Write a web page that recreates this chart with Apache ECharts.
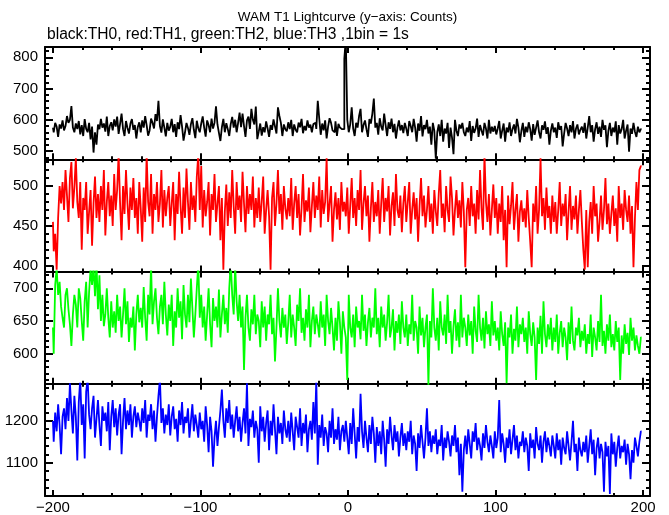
<!DOCTYPE html>
<html><head><meta charset="utf-8">
<script src="https://cdn.jsdelivr.net/npm/echarts@6/dist/echarts.min.js"></script>
<style>html,body{margin:0;padding:0;background:#fff}#c{width:669px;height:515px}</style>
</head><body><div id="c"></div>
<script>
// time bins: 1 bin = 1 s, starting at t = -200
const tStart = -200;
const binSize = 1;
const xMajorTicks = [-200, -100, 0, 100, 200];
const xMinorTicks = [-200,-180,-160,-140,-120,-100,-80,-60,-40,-20,0,20,40,60,80,100,120,140,160,180,200];

const th0 = [
575,560,590,578,545,585,572,598,566,580,612,590,600,644,575,560,588,570,596,553,
583,548,602,571,560,590,537,578,495,560,520,585,570,603,575,588,562,610,548,580,
592,566,601,578,610,555,587,620,570,548,596,574,556,588,602,568,583,540,577,592,
560,598,575,612,583,549,566,604,590,572,618,596,661,580,559,601,575,547,590,565,
578,603,560,586,545,592,570,615,578,533,560,590,574,552,586,605,568,541,597,573,
560,588,611,575,546,598,583,560,604,572,590,643,585,558,532,576,603,560,589,570,
548,586,609,575,600,560,590,623,576,620,580,545,598,610,571,635,600,585,642,538,
562,588,549,576,560,595,572,545,583,568,601,579,556,640,612,590,548,585,570,563,
592,570,600,548,585,568,560,591,576,603,557,580,566,598,575,584,560,586,590,571,
661,604,552,588,566,598,540,578,605,590,566,560,595,548,587,575,570,570,795,860,
600,560,585,640,572,548,590,575,612,635,560,583,598,570,545,602,588,620,668,575,
590,552,605,578,566,620,583,548,592,571,604,560,587,540,575,598,566,583,557,590,
571,548,596,580,560,603,575,530,588,565,612,547,583,570,600,556,578,520,590,565,
475,560,585,548,600,530,572,556,590,510,575,543,490,600,565,548,585,572,590,560,
548,575,560,596,532,580,558,572,604,545,583,566,550,590,572,540,600,556,578,562,
580,553,572,596,540,565,588,530,575,560,592,548,570,585,556,603,575,528,564,590,
545,578,560,592,570,533,586,552,575,598,560,540,582,568,595,555,576,520,565,588,
560,575,542,592,568,580,515,556,590,572,548,583,560,596,540,571,585,553,568,578,
558,590,540,575,612,560,583,530,570,592,555,578,545,600,568,582,512,565,590,548,
575,560,595,520,583,556,570,600,540,565,585,498,572,555,590,562,545,578,560,570
];
const th1 = [
455,418,440,395,460,500,478,505,470,520,488,455,510,530,472,498,535,480,460,505,
420,485,470,505,440,468,495,425,478,512,460,490,455,500,470,520,438,480,505,462,
488,450,515,470,495,540,478,432,500,465,520,478,445,498,470,510,460,485,440,505,
472,430,498,455,540,480,462,515,440,490,470,505,455,478,520,448,495,462,485,500,
450,478,505,432,490,465,518,475,440,498,460,522,480,445,505,470,488,455,512,540,
470,525,448,495,462,480,505,438,490,470,515,455,478,500,432,485,395,468,502,450,
492,460,520,475,440,505,470,488,455,518,478,442,500,465,490,470,512,448,485,460,
498,455,480,512,440,470,495,462,395,485,505,450,478,520,465,490,445,500,472,458,
485,462,510,445,478,500,460,490,438,472,515,455,482,468,498,442,475,505,460,488,
470,512,448,495,465,480,535,455,478,500,430,470,492,458,485,445,505,468,480,462,
498,440,475,510,460,485,450,495,470,520,445,478,500,462,488,430,472,505,455,480,
462,495,440,478,510,455,485,468,500,438,475,492,450,515,470,460,488,442,478,500,
455,480,505,440,470,492,458,485,430,475,510,462,488,448,470,500,455,478,440,495,
468,450,490,520,460,478,442,500,470,455,512,485,438,470,495,460,482,448,505,468,
398,470,485,450,500,462,478,440,495,458,520,472,445,540,480,455,490,438,470,502,
460,485,440,478,455,500,432,470,398,488,452,475,505,445,470,490,430,468,482,455,
472,448,495,460,430,398,478,455,500,440,470,535,462,485,445,498,460,475,440,488,
455,480,440,470,505,450,478,462,490,432,468,500,445,475,458,488,440,470,495,455,
420,395,470,398,455,480,440,500,462,478,430,455,488,445,470,510,452,478,440,465,
488,450,472,430,500,460,478,445,495,470,455,488,440,475,398,460,505,470,520,525
];
const th2 = [
640,600,705,730,690,710,672,655,640,690,700,668,645,612,660,690,675,640,700,685,
650,620,680,710,640,695,730,705,735,688,740,668,720,650,690,642,660,700,655,625,
680,640,665,632,690,650,672,625,660,700,645,680,618,655,640,672,605,660,690,648,
670,640,702,655,620,690,660,735,645,680,700,655,630,672,690,645,710,660,628,675,
650,690,612,665,640,700,655,680,622,705,660,640,690,648,715,670,625,660,700,738,
655,690,640,672,620,660,700,645,610,685,650,672,640,698,625,660,690,645,670,632,
700,740,690,660,735,680,650,690,640,672,575,655,690,640,620,668,645,690,630,660,
650,610,680,640,672,620,660,645,690,630,655,588,640,700,650,625,670,640,660,615,
648,690,625,660,640,612,675,650,700,632,655,620,668,640,690,610,650,672,630,660,
645,625,680,640,660,612,690,650,630,670,640,605,655,620,680,648,600,665,640,625,
560,690,640,625,660,610,672,640,650,622,690,635,660,612,648,670,625,655,640,700,
630,655,610,672,640,660,620,648,690,625,640,668,605,650,632,660,615,680,640,625,
660,612,645,630,690,620,650,640,600,672,628,655,610,640,660,552,650,625,700,640,
620,655,605,680,640,628,660,615,690,632,650,600,642,668,620,648,610,690,625,655,
640,612,660,628,650,600,672,635,618,690,640,620,655,608,665,630,645,612,680,628,
650,620,640,605,665,630,612,648,555,640,625,660,600,638,620,672,610,645,630,655,
618,640,600,665,630,612,648,625,560,640,615,658,600,680,630,610,645,622,655,605,
640,618,660,600,632,650,610,640,625,590,648,615,672,620,605,640,628,655,610,635,
620,645,600,630,615,660,595,640,625,605,650,618,690,612,635,600,645,620,660,610,
630,605,650,618,640,560,628,600,645,615,632,598,655,620,640,605,628,612,600,625
];
const th3 = [
1200,1150,1220,1175,1240,1190,1120,1210,1230,1180,1255,1200,1290,1225,1170,1260,1210,1105,1245,1300,
1190,1240,1110,1270,1300,1215,1180,1230,1260,1160,1205,1250,1190,1140,1235,1200,1220,1175,1245,1130,
1210,1250,1185,1230,1165,1215,1240,1120,1200,1255,1180,1225,1190,1240,1160,1210,1235,1185,1220,1200,
1175,1230,1195,1250,1160,1215,1200,1240,1180,1225,1150,1210,1260,1300,1195,1230,1170,1215,1190,1240,
1165,1210,1235,1180,1205,1150,1225,1190,1245,1170,1210,1195,1230,1160,1200,1240,1175,1215,1190,1160,
1220,1180,1200,1150,1235,1190,1125,1210,1175,1090,1160,1200,1140,1185,1225,1275,1200,1160,1230,1195,
1250,1180,1215,1160,1200,1235,1175,1210,1150,1195,1230,1170,1290,1140,1205,1185,1225,1160,1200,1180,
1100,1235,1175,1210,1150,1195,1225,1130,1200,1165,1240,1180,1120,1210,1170,1195,1145,1225,1180,1160,
1200,1150,1220,1175,1130,1210,1185,1160,1230,1140,1195,1170,1215,1125,1180,1200,1155,1245,1170,1300,
1095,1190,1160,1215,1140,1185,1170,1125,1200,1160,1230,1145,1180,1155,1210,1130,1175,1190,1150,1200,
1160,1120,1195,1145,1230,1170,1110,1185,1150,1265,1175,1135,1200,1160,1125,1190,1145,1210,1170,1100,
1185,1140,1175,1120,1200,1155,1090,1180,1145,1210,1165,1130,1190,1150,1175,1115,1160,1195,1140,1170,
1130,1175,1150,1200,1120,1165,1145,1080,1170,1135,1190,1150,1110,1160,1230,1140,1175,1125,1165,1145,
1180,1120,1155,1140,1190,1105,1160,1135,1175,1150,1115,1165,1140,1190,1125,1160,1070,1145,1030,1130,
1165,1120,1180,1145,1110,1175,1150,1195,1130,1160,1140,1105,1170,1135,1190,1150,1125,1165,1140,1110,
1175,1135,1160,1250,1125,1170,1145,1100,1160,1135,1180,1120,1155,1190,1130,1165,1110,1150,1140,1175,
1125,1160,1140,1080,1170,1135,1155,1110,1185,1145,1130,1165,1100,1150,1175,1125,1160,1140,1115,1165,
1140,1110,1170,1130,1155,1095,1160,1135,1120,1175,1140,1105,1150,1200,1125,1145,1080,1160,1130,1115,
1150,1125,1165,1100,1140,1180,1120,1155,1070,1135,1160,1110,1145,1125,1030,1150,1115,1140,1025,1170,
1120,1150,1090,1135,1165,1110,1140,1125,1155,1095,1145,1120,1060,1130,1100,1160,1140,1115,1150,1175
];

const seriesValues = [th0, th1, th2, th3];
const seriesColors = ['#000000', '#ff0000', '#00ff00', '#0000ff'];
const seriesNames = ['TH0', 'TH1', 'TH2', 'TH3'];

// y ranges and ticks per panel
const yMin = [473.6, 392.7, 554.1, 1020];
const yMax = [833, 533.6, 725.7, 1289];
const yMajorTicks = [[500,600,700,800],[400,450,500],[600,650,700],[1100,1200]];
const yMinorTicks = [
  [480,500,520,540,560,580,600,620,640,660,680,700,720,740,760,780,800,820],
  [400,410,420,430,440,450,460,470,480,490,500,510,520,530],
  [560,570,580,590,600,610,620,630,640,650,660,670,680,690,700,710,720],
  [1040,1060,1080,1100,1120,1140,1160,1180,1200,1220,1240,1260,1280]
];

const titleText = 'WAM T1 Lightcurve (y\u2212axis: Counts)';
const subText = 'black:TH0, red:TH1, green:TH2, blue:TH3 ,1bin = 1s';

const FONT = '"Liberation Sans", Arial, Helvetica, sans-serif';
const xMin = -205.4, xMax = 204.7;
const panelTop = 47, panelH = 112.25;

const grids = [], xAxes = [], yAxes = [], series = [];
const fmt = v => String(v).replace('-', '\u2212');
const lineStyle = {color: '#000', width: 2};
const tickStyle = {color: '#000', width: 2};

for (let i = 0; i < 4; i++) {
  grids.push({left: 45, width: 605, top: panelTop + i * panelH, height: panelH, containLabel: false});
  const xBase = {gridIndex: i, type: 'value', min: xMin, max: xMax, splitLine: {show: false}};
  const xMainIdx = xAxes.length;
  xAxes.push(Object.assign({}, xBase, {position: 'bottom',
    axisLine: {show: true, onZero: false, lineStyle},
    axisTick: {show: true, inside: true, length: 6, customValues: xMajorTicks, lineStyle: tickStyle},
    axisLabel: {show: i === 3, customValues: xMajorTicks, formatter: fmt, color: '#000', fontSize: 15, fontFamily: FONT, margin: 4}
  }));
  xAxes.push(Object.assign({}, xBase, {position: 'bottom',
    axisLine: {show: false, onZero: false}, axisLabel: {show: false},
    axisTick: {show: true, inside: true, length: 3, customValues: xMinorTicks, lineStyle: tickStyle}
  }));
  xAxes.push(Object.assign({}, xBase, {position: 'top',
    axisLine: {show: true, onZero: false, lineStyle}, axisLabel: {show: false},
    axisTick: {show: true, inside: true, length: 6, customValues: xMajorTicks, lineStyle: tickStyle}
  }));
  xAxes.push(Object.assign({}, xBase, {position: 'top',
    axisLine: {show: false, onZero: false}, axisLabel: {show: false},
    axisTick: {show: true, inside: true, length: 3, customValues: xMinorTicks, lineStyle: tickStyle}
  }));

  const yBase = {gridIndex: i, type: 'value', min: yMin[i], max: yMax[i], splitLine: {show: false}};
  const yMainIdx = yAxes.length;
  yAxes.push(Object.assign({}, yBase, {position: 'left',
    axisLine: {show: true, onZero: false, lineStyle},
    axisTick: {show: true, inside: true, length: 8, customValues: yMajorTicks[i], lineStyle: tickStyle},
    axisLabel: {show: true, customValues: yMajorTicks[i], formatter: fmt, color: '#000', fontSize: 15, fontFamily: FONT, margin: 7}
  }));
  yAxes.push(Object.assign({}, yBase, {position: 'left',
    axisLine: {show: false, onZero: false}, axisLabel: {show: false},
    axisTick: {show: true, inside: true, length: 4, customValues: yMinorTicks[i], lineStyle: tickStyle}
  }));
  yAxes.push(Object.assign({}, yBase, {position: 'right',
    axisLine: {show: true, onZero: false, lineStyle}, axisLabel: {show: false},
    axisTick: {show: true, inside: true, length: 8, customValues: yMajorTicks[i], lineStyle: tickStyle}
  }));
  yAxes.push(Object.assign({}, yBase, {position: 'right',
    axisLine: {show: false, onZero: false}, axisLabel: {show: false},
    axisTick: {show: true, inside: true, length: 4, customValues: yMinorTicks[i], lineStyle: tickStyle}
  }));

  const data = seriesValues[i].map((v, k) => [tStart + k * binSize, v]);
  series.push({
    type: 'line', name: seriesNames[i], xAxisIndex: xMainIdx, yAxisIndex: yMainIdx,
    data, showSymbol: false, symbol: 'none', step: 'middle', clip: true,
    lineStyle: {color: seriesColors[i], width: 1.8}, animation: false, silent: true
  });
}

const chart = echarts.init(document.getElementById('c'), null, {renderer: 'canvas'});
chart.setOption({
  animation: false,
  backgroundColor: '#fff',
  graphic: [
    {type: 'text', x: 347.5, y: 17, silent: true,
     style: {text: titleText, textAlign: 'center', textVerticalAlign: 'middle', fill: '#000', fontSize: 13.5, fontFamily: FONT}},
    {type: 'text', x: 47, y: 35, silent: true,
     style: {text: subText, textAlign: 'left', textVerticalAlign: 'middle', fill: '#000', fontSize: 15.6, fontFamily: FONT}}
  ],
  grid: grids, xAxis: xAxes, yAxis: yAxes, series
});
</script></body></html>
